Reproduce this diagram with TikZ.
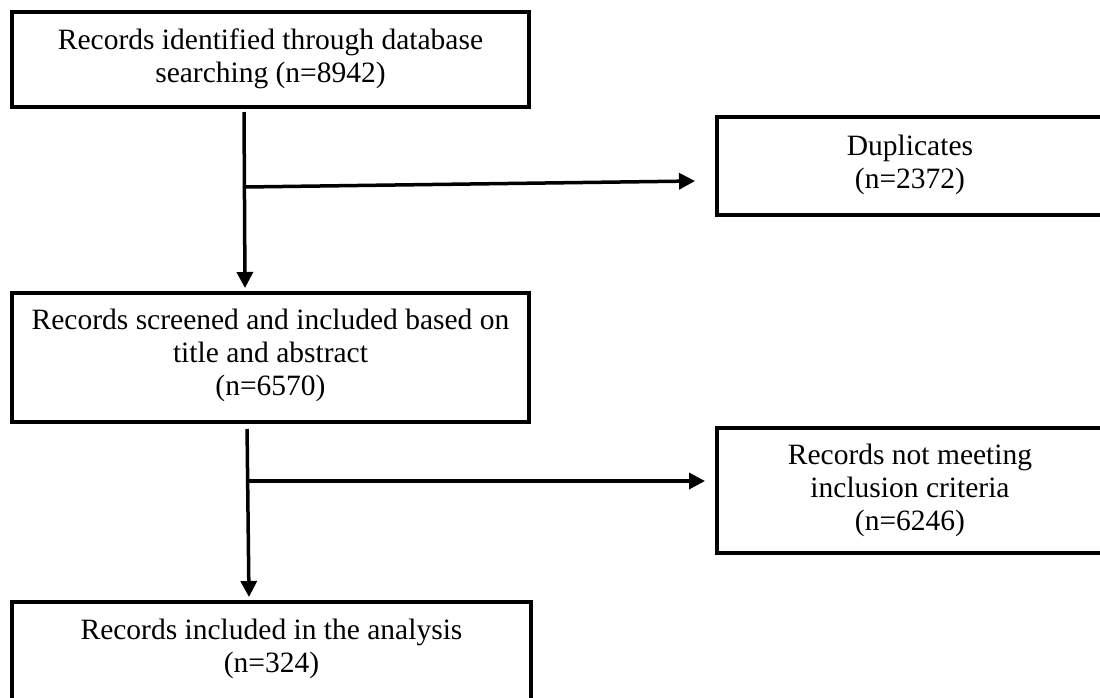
\documentclass[tikz,border=0pt]{standalone}
\usepackage{fontspec}
\setmainfont{Liberation Serif}
\usetikzlibrary{arrows.meta}
\begin{document}
\begin{tikzpicture}[x=1pt,y=-1pt,
  box/.style={draw, line width=4pt, inner sep=0pt, fill=white},
  lbl/.style={anchor=north, inner sep=0pt, align=center, font=\fontsize{29.5}{33}\selectfont},
  flow/.style={line width=3.5pt, -{Triangle[length=16pt,width=16pt]}},
]
\useasboundingbox[fill=white] (0,0) rectangle (1100,697);
% boxes
\node[box, minimum width=517pt, minimum height=95pt] (b1) at (270.5,59.5) {};
\node[box, minimum width=386pt, minimum height=98pt] (dup) at (910,166) {};
\node[box, minimum width=517pt, minimum height=129pt] (b2) at (270.5,357.5) {};
\node[box, minimum width=386pt, minimum height=125pt] (nm) at (910,490.5) {};
\node[box, minimum width=519pt, minimum height=103pt] (b3) at (271.5,653.5) {};
% texts
\node[lbl] (t1) at ([yshift=-19pt]b1.north) {Records identified through database\\searching (n=8942)};
\node[lbl] (tdup) at ([yshift=-20pt]dup.north) {Duplicates\\(n=2372)};
\node[lbl] (t2) at ([yshift=-18pt]b2.north) {Records screened and included based on\\title and abstract\\(n=6570)};
\node[lbl] (tnm) at ([yshift=-18pt]nm.north) {Records not meeting\\inclusion criteria\\(n=6246)};
\node[lbl] (t3) at ([yshift=-19pt]b3.north) {Records included in the analysis\\(n=324)};
% connectors
\coordinate (j1) at (244.5,187);
\coordinate (e1) at (695,181);
\coordinate (j2) at (248,481);
\coordinate (e2) at (705,481);
\draw[flow, shorten <=3pt, shorten >=3pt] (244,0 |- b1.south) -- (245,0 |- b2.north);
\draw[flow] (j1) -- (e1);
\draw[flow, shorten <=5pt, shorten >=3pt] (247,0 |- b2.south) -- (249,0 |- b3.north);
\draw[flow] (j2) -- (e2);
\end{tikzpicture}
\end{document}
